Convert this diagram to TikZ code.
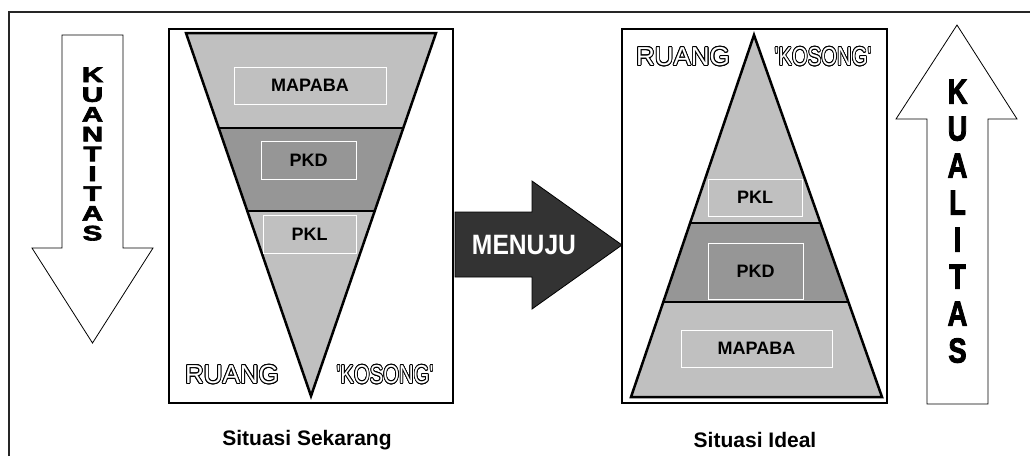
\documentclass[tikz,border=0pt]{standalone}
\usepackage{fontspec}
\setmainfont{Liberation Sans}
\newfontfamily\heavyfont{Liberation Sans Bold}[FakeBold=3]
\usepackage{graphicx}
\usepackage{contour}
\contourlength{0.9pt}
\usetikzlibrary{calc}
\definecolor{lightband}{HTML}{C0C0C0}
\definecolor{midband}{HTML}{969696}
\definecolor{darkarrow}{HTML}{333333}
\tikzset{
  lblbox/.style={draw=white, line width=1pt, inner sep=0pt, font=\bfseries\fontsize{18}{18}\selectfont},
  heavyletter/.style={inner sep=0pt, text height=15pt, text depth=0pt, font=\heavyfont\fontsize{21}{21}\selectfont},
  hollowtext/.style={inner sep=0pt, text=white, font=\fontsize{26}{26}\selectfont},
  caption/.style={inner sep=0pt, font=\bfseries\fontsize{21}{21}\selectfont},
  boxline/.style={draw=black, line width=2pt}
}
\begin{document}
\begin{tikzpicture}[x=1pt,y=-1pt]
\useasboundingbox (0,0) rectangle (1030,456);
\fill[white] (0,0) rectangle (1030,456);
\draw[line width=1.5pt, black!85] (9,456) -- (9,12) -- (1030,12);
\draw[line width=0.8pt] (62,35) -- (123,35) -- (123,248) -- (153,248) -- (92.5,343) -- (32,248) -- (62,248) -- cycle;
\foreach \ch [count=\i] in {K,U,A,N,T,I,T,A,S}
    \node[heavyletter] (kuan\i) at (92.5,54.7+19.8*\i) {\scalebox{1.4}[1]{\ch}};
\draw[line width=0.8pt] (927,404) -- (988,404) -- (988,119) -- (1017,119) -- (957,25) -- (896,119) -- (927,119) -- cycle;
\foreach \ch [count=\i] in {K,U,A,L,I,T,A,S}
    \node[heavyletter] (kual\i) at (957.5,59+37*\i) {\scalebox{1.3}[1.65]{\ch}};
\draw[boxline] (169,29) rectangle (453,403);
\coordinate (sl) at (186,33);
\coordinate (sr) at (436,33);
\coordinate (st) at (311,396);
\filldraw[lightband] (sl) -- (sr) -- ($(sr)!0.2617!(st)$) -- ($(sl)!0.2617!(st)$) -- cycle;
\filldraw[midband] ($(sl)!0.2617!(st)$) -- ($(sr)!0.2617!(st)$) -- ($(sr)!0.4904!(st)$) -- ($(sl)!0.4904!(st)$) -- cycle;
\filldraw[lightband] ($(sl)!0.4904!(st)$) -- ($(sr)!0.4904!(st)$) -- (st) -- cycle;
\draw[line width=2.5pt] ($(sl)!0.2617!(st)$) -- ($(sr)!0.2617!(st)$);
\draw[line width=2.5pt] ($(sl)!0.4904!(st)$) -- ($(sr)!0.4904!(st)$);
\draw[line width=2.5pt] (sl) -- (sr) -- (st) -- cycle;
\node[lblbox, fill=lightband, minimum width=152, minimum height=37] (nowmapaba) at (310,85.5) {MAPABA};
\node[lblbox, fill=midband, minimum width=95, minimum height=38] (nowpkd) at (308.5,160) {PKD};
\node[lblbox, fill=lightband, minimum width=93, minimum height=38] (nowpkl) at (309.5,234) {PKL};
\node[hollowtext] (nowruang) at (232,375) {\contour{black}{RUANG}};
\node[hollowtext] (nowkosong) at (385,375) {\scalebox{0.78}[1]{\contour{black}{\textquotesingle KOSONG\textquotesingle}}};
\node[caption] (nowcap) at (307,440) {Situasi Sekarang};
\filldraw[fill=darkarrow, draw=black, line width=0.8pt] (455,212) -- (532,212) -- (532,181) -- (622,245) -- (532,309) -- (532,277) -- (455,277) -- cycle;
\node[inner sep=0pt, text=white, font=\bfseries\fontsize{28}{28}\selectfont] (menuju) at (524,245) {\scalebox{0.88}[1]{MENUJU}};
\draw[boxline] (622,29) rectangle (887,403);
\coordinate (ia) at (754,35);
\coordinate (il) at (631,397);
\coordinate (ir) at (882,397);
\filldraw[lightband] (ia) -- ($(ia)!0.5193!(ir)$) -- ($(ia)!0.5193!(il)$) -- cycle;
\filldraw[midband] ($(ia)!0.5193!(il)$) -- ($(ia)!0.5193!(ir)$) -- ($(ia)!0.7376!(ir)$) -- ($(ia)!0.7376!(il)$) -- cycle;
\filldraw[lightband] ($(ia)!0.7376!(il)$) -- ($(ia)!0.7376!(ir)$) -- (ir) -- (il) -- cycle;
\draw[line width=2.5pt] ($(ia)!0.5193!(il)$) -- ($(ia)!0.5193!(ir)$);
\draw[line width=2.5pt] ($(ia)!0.7376!(il)$) -- ($(ia)!0.7376!(ir)$);
\draw[line width=2.5pt] (ia) -- (ir) -- (il) -- cycle;
\node[lblbox, fill=lightband, minimum width=94, minimum height=37] (idealpkl) at (755,197.5) {PKL};
\node[lblbox, fill=midband, minimum width=95, minimum height=56] (idealpkd) at (755.5,271) {PKD};
\node[lblbox, fill=lightband, minimum width=151, minimum height=37] (idealmapaba) at (756.5,348.5) {MAPABA};
\node[hollowtext] (idealruang) at (683,57) {\contour{black}{RUANG}};
\node[hollowtext] (idealkosong) at (823,57) {\scalebox{0.78}[1]{\contour{black}{\textquotesingle KOSONG\textquotesingle}}};
\node[caption] (idealcap) at (755,440) {Situasi Ideal};
\end{tikzpicture}
\end{document}
